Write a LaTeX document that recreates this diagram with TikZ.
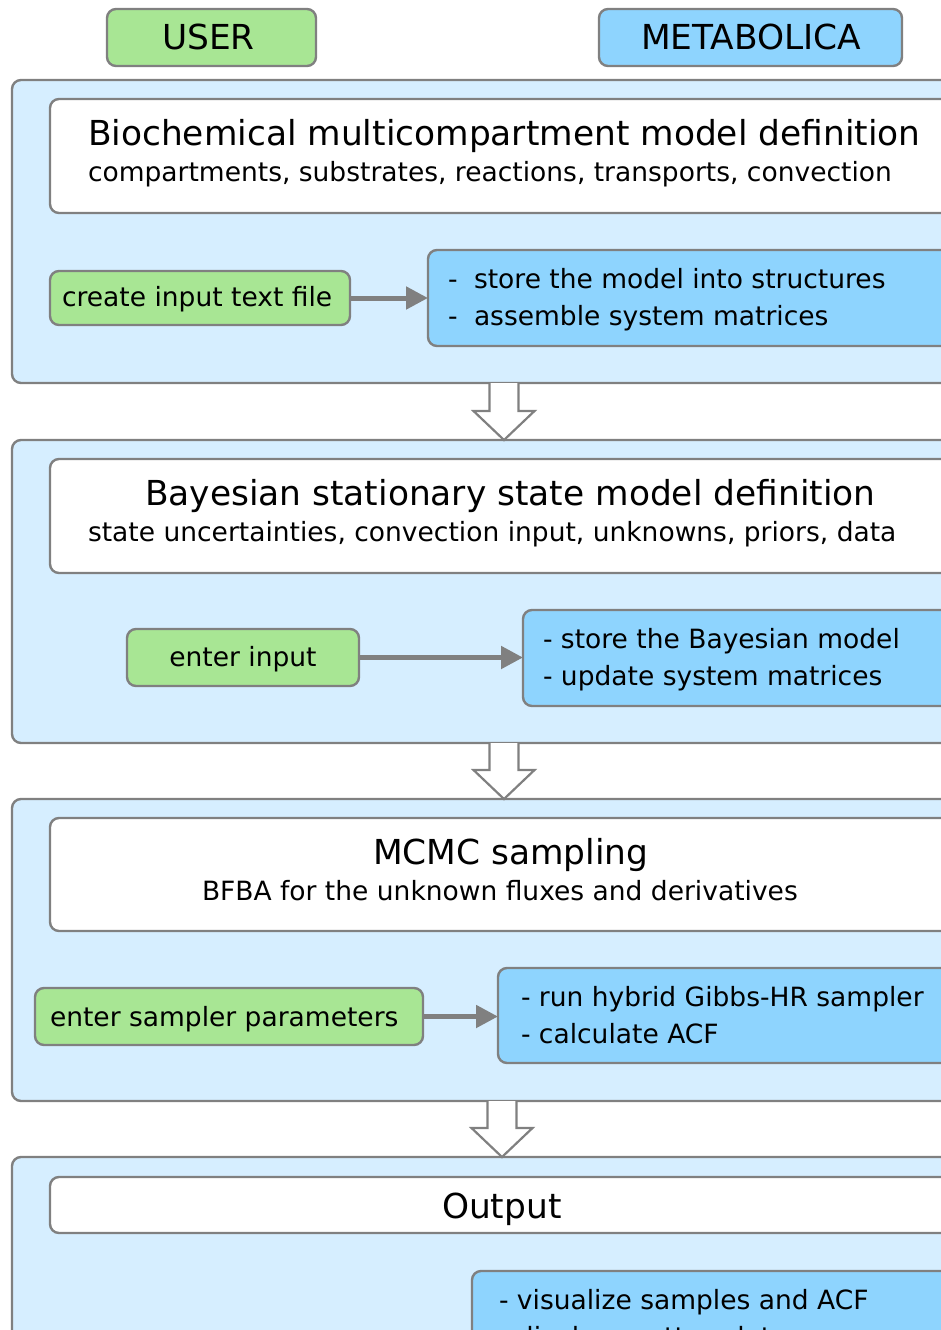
\documentclass[tikz,border=0pt]{standalone}
\usepackage{fontspec}
\setmainfont{DejaVu Sans}
\usetikzlibrary{arrows.meta,calc}
\definecolor{panelblue}{HTML}{D6EEFF}
\definecolor{usergreen}{HTML}{A8E694}
\definecolor{metablue}{HTML}{8ED4FE}
\definecolor{edgegray}{HTML}{808080}
\newcommand{\titlefont}{\fontsize{34.4}{40}\selectfont}
\newcommand{\bodyfont}{\fontsize{26.5}{37}\selectfont}
\tikzset{
  box/.style={draw=edgegray, line width=2.4pt, rounded corners=9pt, anchor=north west, inner sep=0pt, outer sep=0pt},
  panel/.style={box, fill=panelblue},
  whitebox/.style={box, fill=white},
  greenbox/.style={box, fill=usergreen},
  bluebox/.style={box, fill=metablue},
  txt/.style={anchor=base west, inner sep=0pt, outer sep=0pt, font=\bodyfont},
  ttl/.style={anchor=base west, inner sep=0pt, outer sep=0pt, font=\titlefont},
  flow/.style={draw=edgegray, line width=5pt, -{Triangle[length=22pt,width=22pt]}},
  hollow/.style={draw=edgegray, line width=2.2pt, fill=white, line join=miter}
}
\newcommand{\dashitem}[1]{\makebox[26pt][l]{-}#1}
\begin{document}
\begin{tikzpicture}[x=1pt,y=-1pt]
\useasboundingbox (0,0) rectangle (941,1330);
\clip (0,0) rectangle (941,1330);
% headers
\node[greenbox, minimum width=209pt, minimum height=57pt] (user) at (107,9) {};
\node[ttl] (usertxt) at (162,50) {USER};
\node[bluebox, minimum width=303pt, minimum height=57pt] (meta) at (599,9) {};
\node[ttl] (metatxt) at (641,50) {METABOLICA};

% panel 1
\node[panel, minimum width=978pt, minimum height=303pt] (p1) at (12,80) {};
\node[whitebox, minimum width=940pt, minimum height=114pt] (w1) at (50,99) {};
\node[ttl] (t1) at (88,145) {Biochemical multicompartment model definition};
\node[txt] (s1) at (88,181) {compartments, substrates, reactions, transports, convection};
\node[greenbox, minimum width=300pt, minimum height=54pt] (g1) at (50,271) {};
\node[txt] (g1t) at (62,306) {create input text file};
\node[bluebox, minimum width=560pt, minimum height=96pt] (b1) at (428,250) {};
\node[txt] (b1a) at (448,288) {\dashitem{store the model into structures}};
\node[txt] (b1b) at (448,325) {\dashitem{assemble system matrices}};
\draw[flow] (g1.east) -- (g1.east -| b1.west);

% panel 2
\node[panel, minimum width=978pt, minimum height=303pt] (p2) at (12,440) {};
\node[whitebox, minimum width=940pt, minimum height=114pt] (w2) at (50,459) {};
\node[ttl] (t2) at (145,505) {Bayesian stationary state model definition};
\node[txt] (s2) at (88,541) {state uncertainties, convection input, unknowns, priors, data};
\node[greenbox, minimum width=232pt, minimum height=57pt] (g2) at (127,629) {};
\node[txt, anchor=base] (g2t) at (243,666) {enter input};
\node[bluebox, minimum width=470pt, minimum height=96pt] (b2) at (523,610) {};
\node[txt] (b2a) at (543,648) {- store the Bayesian model};
\node[txt] (b2b) at (543,685) {- update system matrices};
\draw[flow] (g2.east) -- (g2.east -| b2.west);

% panel 3
\node[panel, minimum width=978pt, minimum height=302pt] (p3) at (12,799) {};
\node[whitebox, minimum width=940pt, minimum height=113pt] (w3) at (50,818) {};
\node[ttl] (t3) at (373,864) {MCMC sampling};
\node[txt] (s3) at (202,900) {BFBA for the unknown fluxes and derivatives};
\node[greenbox, minimum width=388pt, minimum height=57pt] (g3) at (35,988) {};
\node[txt] (g3t) at (50,1026) {enter sampler parameters};
\node[bluebox, minimum width=490pt, minimum height=95pt] (b3) at (498,968) {};
\node[txt] (b3a) at (521,1006) {- run hybrid Gibbs-HR sampler};
\node[txt] (b3b) at (521,1043) {- calculate ACF};
\draw[flow] (g3.east) -- (g3.east -| b3.west);

% panel 4
\node[panel, minimum width=978pt, minimum height=260pt] (p4) at (12,1157) {};
\node[whitebox, minimum width=940pt, minimum height=56pt] (w4) at (50,1177) {};
\node[ttl] (t4) at (442,1218) {Output};
\node[bluebox, minimum width=520pt, minimum height=140pt] (b4) at (472,1271) {};
\node[txt] (b4a) at (499,1309) {- visualize samples and ACF};
\node[txt] (b4b) at (499,1346) {- display scatter plots};

% hollow arrows between panels
\foreach \ya/\yb/\cx in {383/440/504, 743/799/504, 1101/1157/502}{
  \fill[white] (\cx-14.5,\ya) -- (\cx-14.5,\yb-29) -- (\cx-30.5,\yb-29) -- (\cx,\yb) -- (\cx+30.5,\yb-29) -- (\cx+14.5,\yb-29) -- (\cx+14.5,\ya) -- cycle;
  \draw[hollow, fill=none] (\cx-14.5,\ya) -- (\cx-14.5,\yb-29) -- (\cx-30.5,\yb-29) -- (\cx,\yb) -- (\cx+30.5,\yb-29) -- (\cx+14.5,\yb-29) -- (\cx+14.5,\ya);
}
\end{tikzpicture}
\end{document}
